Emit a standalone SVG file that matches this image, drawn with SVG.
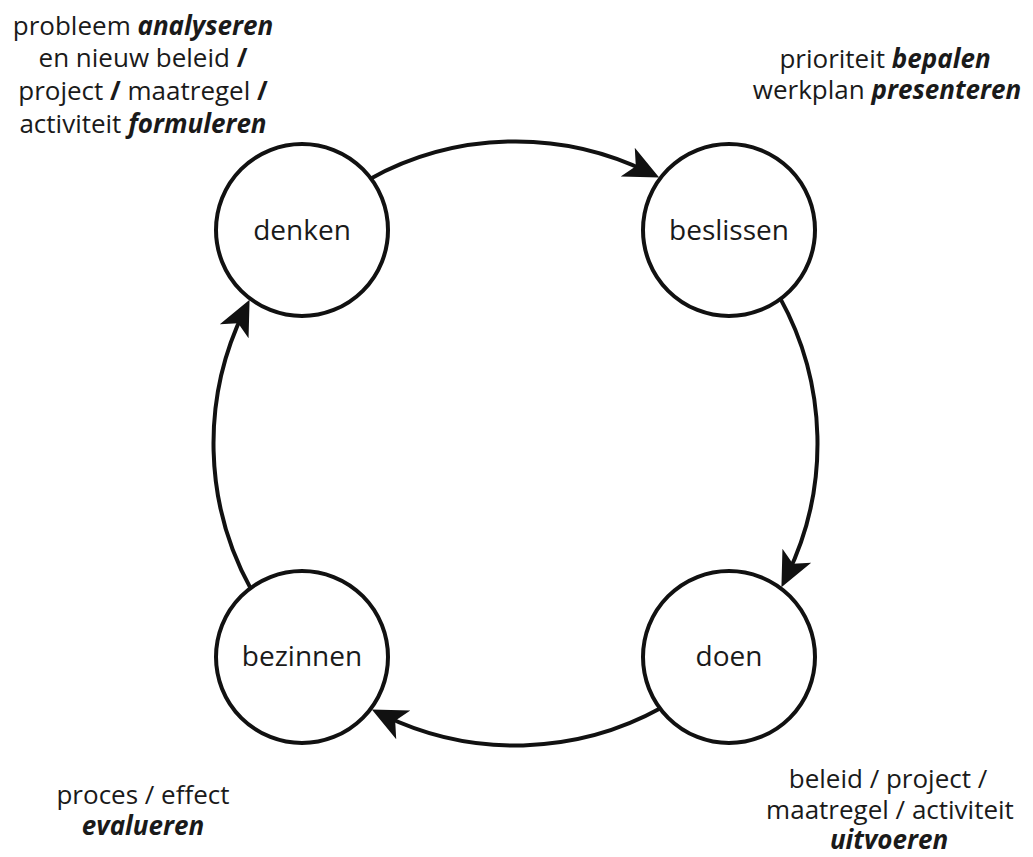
<svg xmlns="http://www.w3.org/2000/svg" width="1033" height="857" viewBox="0 0 1033 857">
  <style>
    .node circle { fill: #ffffff; stroke: #111111; stroke-width: 4; }
    .node text { font-family: "Open Sans", "Noto Sans", "Liberation Sans", sans-serif; font-size: 28px; font-weight: 500; fill: #1a1a1a; text-anchor: middle; }
    .conn path { fill: none; stroke: #111111; stroke-width: 4; }
    .lbl { font-family: "Open Sans", "Noto Sans", "Liberation Sans", sans-serif; font-size: 26px; font-weight: 500; fill: #1a1a1a; text-anchor: middle; }
    .em { font-weight: 700; font-style: italic; }
    .sl { font-weight: 700; }
  </style>
  <defs>
    <marker id="ah" markerUnits="userSpaceOnUse" markerWidth="60" markerHeight="60" viewBox="-30 -30 60 60" refX="0" refY="0" orient="auto" overflow="visible">
      <path d="M12,0 L-23,-16 L-14,0 L-23,16 Z" fill="#111111"/>
    </marker>
  </defs>
  <rect width="1033" height="857" fill="#ffffff"/>

  <g class="conn" id="connectors">
    <path d="M369.1,179.4 A302,302 0 0,1 648.4,172.3" marker-end="url(#ah)"/>
    <path d="M779.6,297.1 A302,302 0 0,1 786.7,576.4" marker-end="url(#ah)"/>
    <path d="M661.9,707.6 A302,302 0 0,1 382.6,714.7" marker-end="url(#ah)"/>
    <path d="M251.4,589.9 A302,302 0 0,1 244.3,310.6" marker-end="url(#ah)"/>
  </g>

  <g class="node" id="denken">
    <circle cx="302" cy="230" r="86"/>
    <text x="302" y="240">denken</text>
  </g>
  <g class="node" id="beslissen">
    <circle cx="729" cy="230" r="86"/>
    <text x="729" y="240">beslissen</text>
  </g>
  <g class="node" id="doen">
    <circle cx="729" cy="657" r="86"/>
    <text x="729" y="666">doen</text>
  </g>
  <g class="node" id="bezinnen">
    <circle cx="302" cy="657" r="86"/>
    <text x="302" y="666">bezinnen</text>
  </g>

  <g id="label-denken" class="lbl">
    <text x="143" y="35">probleem <tspan class="em">analyseren</tspan></text>
    <text x="143" y="67">en nieuw beleid <tspan class="sl">/</tspan></text>
    <text x="143" y="100">project <tspan class="sl">/</tspan> maatregel <tspan class="sl">/</tspan></text>
    <text x="143" y="133">activiteit <tspan class="em">formuleren</tspan></text>
  </g>
  <g id="label-beslissen" class="lbl">
    <text x="885" y="68">prioriteit <tspan class="em">bepalen</tspan></text>
    <text x="887" y="99">werkplan <tspan class="em">presenteren</tspan></text>
  </g>
  <g id="label-bezinnen" class="lbl">
    <text x="143" y="804">proces / effect</text>
    <text x="143" y="835"><tspan class="em">evalueren</tspan></text>
  </g>
  <g id="label-doen" class="lbl">
    <text x="888" y="788">beleid / project /</text>
    <text x="890" y="819">maatregel / activiteit</text>
    <text x="889" y="849"><tspan class="em">uitvoeren</tspan></text>
  </g>
</svg>
